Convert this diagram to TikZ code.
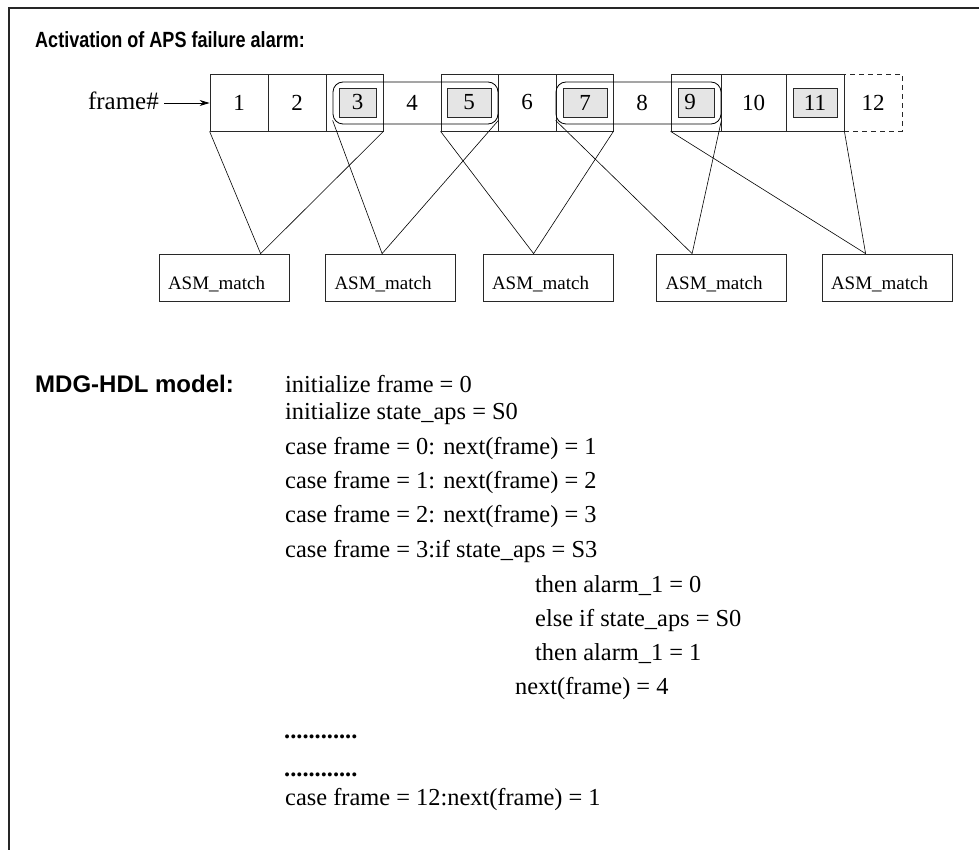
\documentclass[tikz,border=0pt]{standalone}
\usepackage{fontspec}
\usepackage{graphicx}
\setmainfont{Liberation Serif}
\newfontfamily\hvfam{Liberation Sans}
\usetikzlibrary{arrows.meta,calc}
\newcommand\numfnt{\fontsize{23}{26}\selectfont}
\newcommand\lblfnt{\fontsize{25}{28}\selectfont}
\newcommand\codefnt{\fontsize{24.4}{28}\selectfont}
\newcommand\asmfnt{\fontsize{19}{22}\selectfont}
\newcommand\ttlfnt{\hvfam\bfseries\fontsize{22}{26}\selectfont}
\newcommand\mdgfnt{\hvfam\bfseries\fontsize{24}{28}\selectfont}
\definecolor{boxgray}{RGB}{229,229,229}
\definecolor{linegray}{RGB}{40,40,40}
\begin{document}
\begin{tikzpicture}[x=1pt,y=-1pt,
  cell/.style={draw=linegray, line width=0.8pt, minimum height=57pt, inner sep=0pt, font=\numfnt},
  gbox/.style={draw=linegray, line width=0.8pt, fill=boxgray, minimum height=29pt, inner sep=0pt, font=\numfnt},
  num/.style={inner sep=0pt, font=\numfnt},
  rbox/.style={draw=black, line width=0.8pt, rounded corners=10pt, minimum width=165pt, minimum height=42pt, inner sep=0pt},
  asm/.style={draw=linegray, line width=0.8pt, minimum width=130pt, minimum height=47pt, inner xsep=9pt, inner ysep=0pt,
              text width=112pt, align=left, text height=23pt, text depth=0pt, font=\asmfnt},
  conn/.style={line width=0.6pt, black},
  txt/.style={anchor=base west, inner sep=0pt, font=\codefnt},
  arr/.style={-{Stealth[length=10pt,width=6pt]}, line width=0.8pt}
]
\useasboundingbox (0,0) rectangle (979,850);
\draw[line width=1.6pt, color=black!85] (9,852) -- (9,8) -- (981,8);

\node[anchor=base west, inner sep=0pt, font=\ttlfnt] (title) at (35,48) {\scalebox{0.82}[1]{Activation of APS failure alarm:}};

% frame cells
\node[cell, minimum width=58pt] (c1) at (239,102.5) {1};
\node[cell, minimum width=58pt] (c2) at (297,102.5) {2};
\node[cell, minimum width=57pt] (c3) at (354.5,102.5) {};
\node[gbox, minimum width=37pt] (g3) at (357.5,102.5) {3};
\node[num] (n4) at (412,102.5) {4};
\node[cell, minimum width=57pt] (c5) at (469.5,102.5) {};
\node[gbox, minimum width=44pt] (g5) at (469,102.5) {5};
\node[cell, minimum width=58pt] (c6) at (527,102.5) {6};
\node[cell, minimum width=57pt] (c7) at (584.5,102.5) {};
\node[gbox, minimum width=44pt] (g7) at (585,102.5) {7};
\node[num] (n8) at (642,102.5) {8};
\node[cell, minimum width=50pt] (c9) at (696,102.5) {};
\node[gbox, minimum width=36pt] (g9) at (696,102.5) {9\hspace*{12pt}};
\node[cell, minimum width=65pt] (c10) at (753.5,102.5) {10};
\node[cell, minimum width=58pt] (c11) at (815,102.5) {};
\node[gbox, minimum width=44pt] (g11) at (815,102.5) {11};
\node[cell, dash pattern=on 5pt off 4pt, minimum width=58pt] (c12) at (873,102.5) {12};

% rounded groups
\node[rbox] (r1) at (415.5,103) {};
\node[rbox] (r2) at (638.5,103) {};

% frame# label and arrow
\node[anchor=base east, inner sep=0pt, font=\lblfnt] (fl) at (159,110) {frame\#};
\coordinate (fs) at ($(fl.base east)+(5,-7)$);
\draw[arr] (fs) -- (fs -| c1.west);

% ASM boxes
\node[asm] (a1) at (224,277.5) {ASM\_match};
\node[asm] (a2) at (390.5,277.5) {ASM\_match};
\node[asm] (a3) at (548,277.5) {ASM\_match};
\node[asm] (a4) at (721.5,277.5) {ASM\_match};
\node[asm] (a5) at (887,277.5) {ASM\_match};

\coordinate (p1) at ([xshift=102pt]a1.north west);
\coordinate (p2) at ([xshift=57pt]a2.north west);
\coordinate (p3) at ([xshift=51pt]a3.north west);
\coordinate (p4) at ([xshift=36pt]a4.north west);
\coordinate (p5) at ([xshift=44pt]a5.north west);

\draw[conn] (c1.south west) -- (p1) -- (c3.south east);
\draw[conn] ([yshift=4pt]r1.south west) -- (p2) -- ([yshift=4pt]r1.south east);
\draw[conn] (c5.south west) -- (p3) -- (c7.south east);
\draw[conn] ([yshift=4pt]r2.south west) -- (p4) -- ([yshift=4pt]r2.south east);
\draw[conn] (c9.south west) -- (p5) -- (c11.south east);

% MDG-HDL model
\node[anchor=base west, inner sep=0pt, font=\mdgfnt] (mdg) at (35,392) {MDG-HDL model:};
\node[txt] (l1) at (285,392) {initialize frame = 0};
\node[txt] (l2) at (285,419) {initialize state\_aps = S0};
\node[txt] (l3) at (285,454) {case frame = 0: next(frame) = 1};
\node[txt] (l4) at (285,488) {case frame = 1: next(frame) = 2};
\node[txt] (l5) at (285,522) {case frame = 2: next(frame) = 3};
\node[txt] (l6) at (285,557) {case frame = 3:if state\_aps = S3};
\node[txt] (l7) at (535,592) {then alarm\_1 = 0};
\node[txt] (l8) at (535,626) {else if state\_aps = S0};
\node[txt] (l9) at (535,660) {then alarm\_1 = 1};
\node[txt] (l10) at (515,694) {next(frame) = 4};
\node[txt, font=\codefnt\bfseries] (l11) at (284,738) {............};
\node[txt, font=\codefnt\bfseries] (l12) at (284,776) {............};
\node[txt] (l13) at (285,805) {case frame = 12:next(frame) = 1};
\end{tikzpicture}
\end{document}
